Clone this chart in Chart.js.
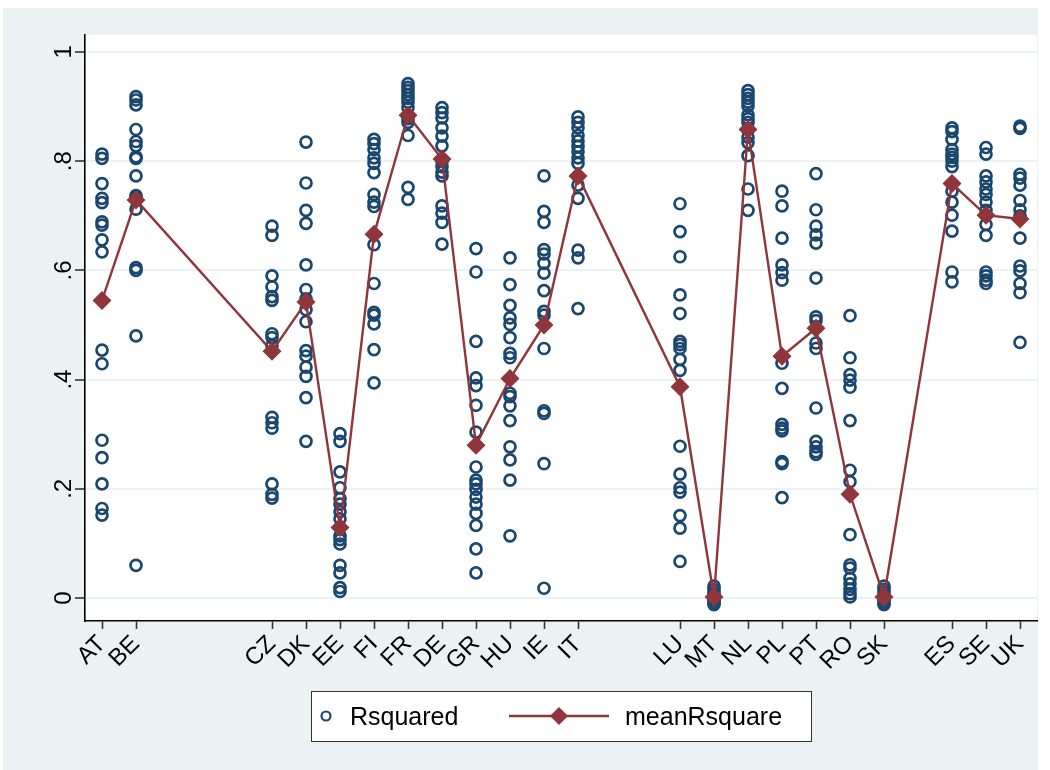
<!DOCTYPE html>
<html>
<head>
<meta charset="utf-8">
<title>Rsquared by country</title>
<script src="https://cdn.jsdelivr.net/npm/chart.js@4.4.1/dist/chart.umd.min.js"></script>
<style>
    html, body { margin: 0; padding: 0; background: #ffffff; }
    #wrap { width: 1050px; height: 770px; }
</style>
</head>
<body>
<div id="wrap"><canvas id="rsq-chart" width="1050" height="770"></canvas></div>
<script>
// country codes and their position on the x axis
const countries = ["AT", "BE", "CZ", "DK", "EE", "FI", "FR", "DE", "GR", "HU", "IE", "IT",
                   "LU", "MT", "NL", "PL", "PT", "RO", "SK", "ES", "SE", "UK"];
const countryPos = [1, 2, 6, 7, 8, 9, 10, 11, 12, 13, 14, 15, 18, 19, 20, 21, 22, 23, 24, 26, 27, 28];

// Rsquared values per country
const rsqAT = [0.813, 0.805, 0.759, 0.732, 0.724, 0.689, 0.683, 0.656, 0.634, 0.454, 0.429, 0.289, 0.257, 0.209, 0.164, 0.152];
const rsqBE = [0.918, 0.912, 0.903, 0.858, 0.836, 0.828, 0.808, 0.805, 0.773, 0.737, 0.733, 0.712, 0.605, 0.600, 0.480, 0.060];
const rsqCZ = [0.681, 0.664, 0.590, 0.570, 0.552, 0.545, 0.484, 0.477, 0.462, 0.331, 0.321, 0.311, 0.209, 0.190, 0.183];
const rsqDK = [0.835, 0.760, 0.710, 0.686, 0.610, 0.565, 0.548, 0.528, 0.506, 0.453, 0.443, 0.423, 0.406, 0.367, 0.287];
const rsqEE = [0.301, 0.287, 0.231, 0.202, 0.182, 0.172, 0.158, 0.145, 0.114, 0.107, 0.099, 0.060, 0.046, 0.019, 0.012];
const rsqFI = [0.840, 0.832, 0.821, 0.806, 0.796, 0.779, 0.739, 0.725, 0.717, 0.647, 0.576, 0.523, 0.518, 0.502, 0.455, 0.394];
const rsqFR = [0.942, 0.935, 0.929, 0.922, 0.915, 0.908, 0.898, 0.878, 0.871, 0.847, 0.752, 0.730];
const rsqDE = [0.898, 0.889, 0.879, 0.861, 0.846, 0.828, 0.800, 0.790, 0.780, 0.773, 0.718, 0.705, 0.688, 0.648];
const rsqGR = [0.640, 0.597, 0.470, 0.403, 0.389, 0.353, 0.304, 0.240, 0.216, 0.209, 0.199, 0.185, 0.172, 0.155, 0.133, 0.090, 0.046];
const rsqHU = [0.623, 0.574, 0.536, 0.513, 0.501, 0.477, 0.448, 0.440, 0.375, 0.369, 0.352, 0.325, 0.277, 0.253, 0.216, 0.114];
const rsqIE = [0.773, 0.708, 0.688, 0.638, 0.630, 0.613, 0.595, 0.563, 0.525, 0.518, 0.457, 0.343, 0.338, 0.246, 0.018];
const rsqIT = [0.881, 0.871, 0.861, 0.847, 0.837, 0.827, 0.817, 0.806, 0.796, 0.756, 0.732, 0.637, 0.623, 0.530];
const rsqLU = [0.722, 0.671, 0.625, 0.555, 0.521, 0.470, 0.464, 0.457, 0.437, 0.417, 0.278, 0.227, 0.202, 0.194, 0.151, 0.128, 0.067];
const rsqMT = [0.022, 0.016, 0.010, 0.005, 0.000, -0.004, -0.008, -0.012];
const rsqNL = [0.929, 0.922, 0.915, 0.908, 0.901, 0.885, 0.878, 0.871, 0.844, 0.834, 0.810, 0.749, 0.710];
const rsqPL = [0.745, 0.718, 0.659, 0.610, 0.596, 0.582, 0.430, 0.384, 0.318, 0.311, 0.306, 0.250, 0.246, 0.184];
const rsqPT = [0.777, 0.711, 0.681, 0.665, 0.650, 0.586, 0.515, 0.508, 0.467, 0.457, 0.348, 0.287, 0.277, 0.268, 0.263];
const rsqRO = [0.517, 0.440, 0.409, 0.399, 0.386, 0.325, 0.234, 0.213, 0.116, 0.061, 0.055, 0.036, 0.026, 0.016, 0.008, 0.002];
const rsqSK = [0.022, 0.016, 0.011, 0.006, 0.001, -0.004, -0.008, -0.012];
const rsqES = [0.861, 0.854, 0.840, 0.821, 0.813, 0.807, 0.800, 0.790, 0.745, 0.725, 0.701, 0.672, 0.597, 0.579];
const rsqSE = [0.825, 0.813, 0.773, 0.762, 0.749, 0.739, 0.725, 0.710, 0.684, 0.664, 0.597, 0.590, 0.582, 0.576];
const rsqUK = [0.864, 0.860, 0.776, 0.769, 0.756, 0.728, 0.711, 0.700, 0.659, 0.608, 0.599, 0.576, 0.559, 0.468];

// mean Rsquared per country (diamonds)
const meanRsquare = [0.545, 0.729, 0.452, 0.542, 0.129, 0.666, 0.884, 0.804, 0.280, 0.402, 0.500, 0.773,
                     0.387, 0.002, 0.858, 0.443, 0.494, 0.190, 0.002, 0.759, 0.701, 0.694];

// y axis ticks
const yTicks = [0, 0.2, 0.4, 0.6, 0.8, 1];
const yTickLabels = ["0", ".2", ".4", ".6", ".8", "1"];

const rsqByCountry = [rsqAT, rsqBE, rsqCZ, rsqDK, rsqEE, rsqFI, rsqFR, rsqDE, rsqGR, rsqHU, rsqIE, rsqIT,
                      rsqLU, rsqMT, rsqNL, rsqPL, rsqPT, rsqRO, rsqSK, rsqES, rsqSE, rsqUK];

const navy = "#1a476f";
const maroon = "#90353b";
const bgColor = "#eaf2f3";
const fontFam = "'Liberation Sans', Arial, Helvetica, sans-serif";


window.addEventListener("load", function () {
    bind();
});


function bind() {

    // scatter points
    let scatterData = [];
    for (let i = 0; i < countries.length; i++) {
        rsqByCountry[i].forEach(function (v) {
            scatterData.push({ x: countryPos[i], y: v });
        });
    }

    // mean line
    let meanData = [];
    for (let i = 0; i < countries.length; i++) {
        meanData.push({ x: countryPos[i], y: meanRsquare[i] });
    }

    // background: white page, light stata-like graph region, white plot region
    const bgPlugin = {
        id: "stataBg",
        beforeDraw(chart) {
            const ctx = chart.ctx;
            const a = chart.chartArea;
            ctx.save();
            ctx.fillStyle = "#ffffff";
            ctx.fillRect(0, 0, chart.width, chart.height);
            ctx.fillStyle = bgColor;
            ctx.fillRect(3, 8, 1035, 762);
            ctx.fillStyle = "#ffffff";
            ctx.fillRect(a.left, a.top, a.right - a.left, a.bottom - a.top);
            ctx.restore();
        }
    };

    // legend box under the plot
    const legendPlugin = {
        id: "boxLegend",
        afterDraw(chart) {
            const ctx = chart.ctx;
            const a = chart.chartArea;
            const mid = (a.left + a.right) / 2;
            const left = mid - 250, top = 691, w = 500, h = 50;
            const cy = top + h / 2;
            const dsLine = chart.data.datasets[0];
            const dsDots = chart.data.datasets[1];

            ctx.save();
            ctx.fillStyle = "#ffffff";
            ctx.fillRect(left, top, w, h);
            ctx.strokeStyle = "#333333";
            ctx.lineWidth = 1;
            ctx.strokeRect(left + 0.5, top + 0.5, w, h);

            // hollow circle
            ctx.beginPath();
            ctx.arc(left + 15, cy, 4.5, 0, Math.PI * 2);
            ctx.strokeStyle = dsDots.borderColor;
            ctx.lineWidth = 2.2;
            ctx.stroke();

            ctx.fillStyle = "#000000";
            ctx.font = "25px " + fontFam;
            ctx.textBaseline = "alphabetic";
            ctx.fillText(dsDots.label, left + 39, cy + 9);

            // line with diamond
            ctx.beginPath();
            ctx.moveTo(left + 198, cy);
            ctx.lineTo(left + 298, cy);
            ctx.strokeStyle = dsLine.borderColor;
            ctx.lineWidth = 2.4;
            ctx.stroke();
            ctx.beginPath();
            ctx.moveTo(left + 248 - 9, cy);
            ctx.lineTo(left + 248, cy - 9);
            ctx.lineTo(left + 248 + 9, cy);
            ctx.lineTo(left + 248, cy + 9);
            ctx.closePath();
            ctx.fillStyle = dsLine.backgroundColor;
            ctx.fill();

            ctx.fillStyle = "#000000";
            ctx.fillText(dsLine.label, left + 314, cy + 9);
            ctx.restore();
        }
    };

    new Chart(document.getElementById("rsq-chart"), {
        type: "scatter",
        data: {
            datasets: [
                {
                    label: "meanRsquare",
                    data: meanData,
                    showLine: true,
                    borderColor: maroon,
                    backgroundColor: maroon,
                    borderWidth: 2.4,
                    pointStyle: "rectRot",
                    pointRadius: 9.5,
                    pointBorderWidth: 0,
                    order: 0
                },
                {
                    label: "Rsquared",
                    data: scatterData,
                    borderColor: navy,
                    backgroundColor: "rgba(0,0,0,0)",
                    pointStyle: "circle",
                    pointRadius: 5.5,
                    pointBorderWidth: 2.7,
                    order: 1
                }
            ]
        },
        options: {
            responsive: false,
            animation: false,
            clip: false,
            layout: { padding: { left: 0, top: 35, right: 13, bottom: 89 } },
            plugins: {
                legend: { display: false },
                tooltip: { enabled: false },
                title: { display: false }
            },
            scales: {
                x: {
                    type: "linear",
                    position: "bottom",
                    min: 0.5,
                    max: 28.5,
                    afterBuildTicks: function (scale) {
                        scale.ticks = countryPos.map(function (v) { return { value: v }; });
                    },
                    afterFit: function (scale) { scale.height = 60; },
                    ticks: {
                        autoSkip: false,
                        minRotation: 45,
                        maxRotation: 45,
                        padding: 1,
                        color: "#000000",
                        font: { family: fontFam, size: 24 },
                        callback: function (value) {
                            return countries[countryPos.indexOf(value)];
                        }
                    },
                    grid: {
                        drawOnChartArea: false,
                        drawTicks: true,
                        tickLength: 8,
                        tickColor: "#333333",
                        tickWidth: 1.6
                    },
                    border: { display: true, color: "#000000", width: 1.6 }
                },
                y: {
                    type: "linear",
                    min: -0.042,
                    max: 1.031,
                    afterBuildTicks: function (scale) {
                        scale.ticks = yTicks.map(function (v) { return { value: v }; });
                    },
                    afterFit: function (scale) { scale.width = 85; },
                    ticks: {
                        minRotation: 90,
                        maxRotation: 90,
                        crossAlign: "center",
                        padding: 1,
                        color: "#000000",
                        font: { family: fontFam, size: 24 },
                        callback: function (value) {
                            return yTickLabels[yTicks.indexOf(value)];
                        }
                    },
                    grid: {
                        color: bgColor,
                        lineWidth: 2,
                        drawTicks: true,
                        tickLength: 10,
                        tickColor: "#333333",
                        tickWidth: 1.6
                    },
                    border: { display: true, color: "#000000", width: 1.6 }
                }
            }
        },
        plugins: [bgPlugin, legendPlugin]
    });
}
</script>
</body>
</html>
